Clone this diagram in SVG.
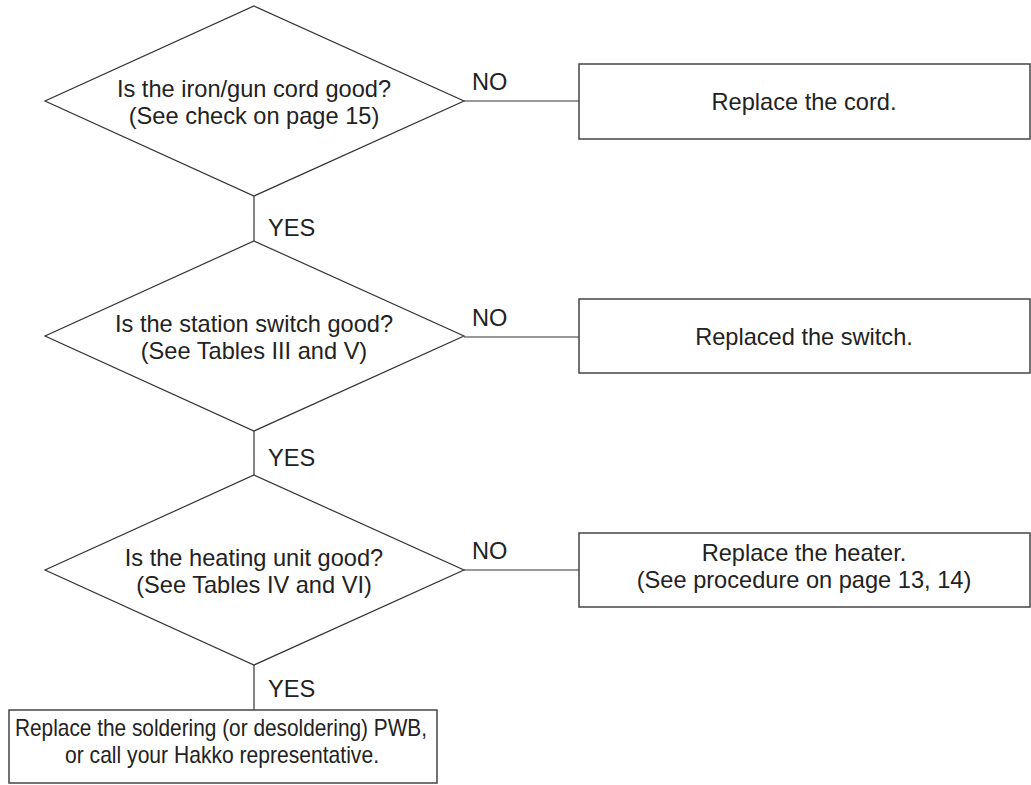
<svg xmlns="http://www.w3.org/2000/svg" width="1031" height="785" viewBox="0 0 1031 785">
<style>
.shape{fill:#fff;stroke:#333;stroke-width:1.2}
.box{fill:#fff;stroke:#444;stroke-width:1.5}
.line{fill:none;stroke:#333;stroke-width:1.2}
text{font-family:"Liberation Sans",Arial,sans-serif;font-size:23.6px;fill:#222}
.c{text-anchor:middle}
</style>
<rect width="1031" height="785" fill="#fff"/>
<g id="connectors">
<line class="line" x1="464" y1="101" x2="579" y2="101"/>
<line class="line" x1="464" y1="337" x2="579" y2="337"/>
<line class="line" x1="464" y1="570" x2="579" y2="570"/>
<line class="line" x1="254" y1="196" x2="254" y2="241"/>
<line class="line" x1="254" y1="431" x2="254" y2="475"/>
<line class="line" x1="254" y1="665" x2="254" y2="710"/>
<text x="472" y="90">NO</text>
<text x="472" y="326">NO</text>
<text x="472" y="559">NO</text>
<text x="268" y="236">YES</text>
<text x="268" y="466">YES</text>
<text x="268" y="697">YES</text>
</g>
<g id="d1">
<polygon class="shape" points="254,6 464,101 254,196 45,101"/>
<text class="c" x="254" y="97">Is the iron/gun cord good?</text>
<text class="c" x="254" y="124">(See check on page 15)</text>
</g>
<g id="b1">
<rect class="box" x="579" y="64" width="451" height="75"/>
<text class="c" x="804" y="110">Replace the cord.</text>
</g>
<g id="d2">
<polygon class="shape" points="254,241 464,336 254,431 45,336"/>
<text class="c" x="254" y="332">Is the station switch good?</text>
<text class="c" x="254" y="359">(See Tables III and V)</text>
</g>
<g id="b2">
<rect class="box" x="579" y="299" width="451" height="74"/>
<text class="c" x="804" y="345">Replaced the switch.</text>
</g>
<g id="d3">
<polygon class="shape" points="254,475 464,570 254,665 45,570"/>
<text class="c" x="254" y="566">Is the heating unit good?</text>
<text class="c" x="254" y="593">(See Tables IV and VI)</text>
</g>
<g id="b3">
<rect class="box" x="579" y="533" width="451" height="74"/>
<text class="c" x="804" y="561">Replace the heater.</text>
<text class="c" x="804" y="588">(See procedure on page 13, 14)</text>
</g>
<g id="b4">
<rect class="box" x="9" y="710" width="428" height="73"/>
<text class="c" x="221" y="736" textLength="412" lengthAdjust="spacingAndGlyphs">Replace the soldering (or desoldering) PWB,</text>
<text class="c" x="222" y="763" textLength="314" lengthAdjust="spacingAndGlyphs">or call your Hakko representative.</text>
</g>
</svg>
